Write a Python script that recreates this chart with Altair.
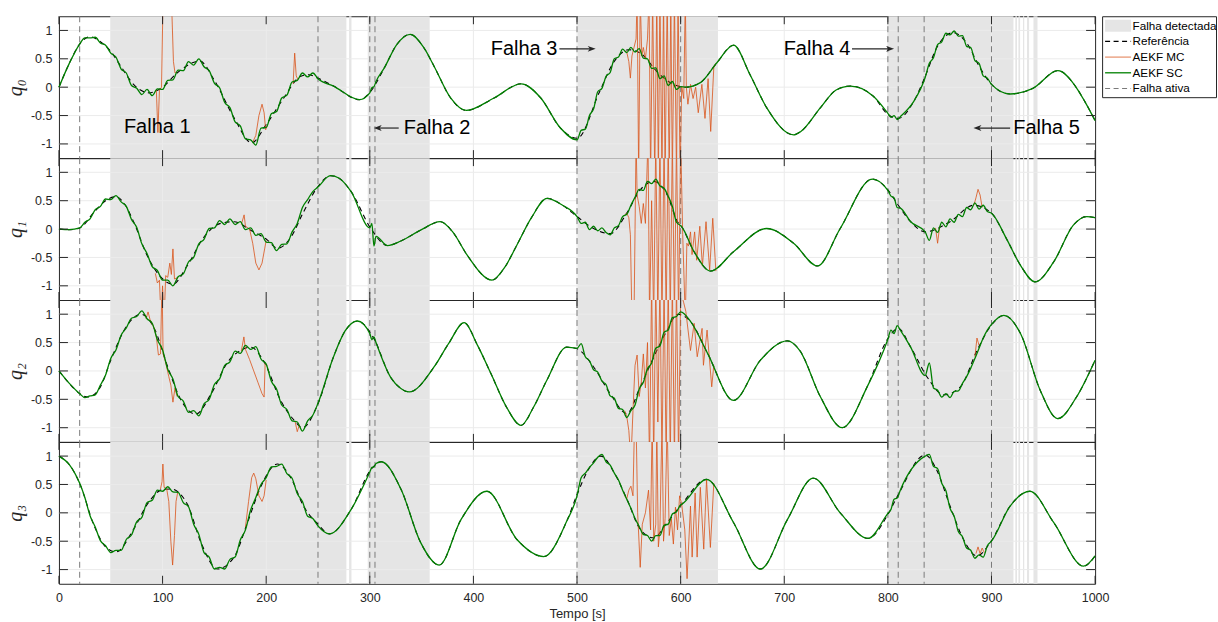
import altair as alt
import pandas as pd

# ------------------------------------------------------------------ data
# Referência (key points)
REF_T0 = [0,10,20,30,40,50,60,72,87,100,114,136,150,169,186,200,217,233,241,250,265,290,301,314,326,339,352,362,378,393,420,446,465,484,500,522,535,550,561,580,593,605,619,635,651,667,683,709,716,735,750,764,786,800,810,825,836,847,863,876,889,900,918,940,964,982,990,1000]
REF_V0 = [0,.42,.76,.89,.80,.63,.36,.05,-.10,.0,.25,.46,.12,-.54,-.98,-.66,-.19,.19,.22,.16,.02,-.22,-.07,.34,.75,.93,.70,.37,-.19,-.41,-.19,.06,-.19,-.72,-.90,-.07,.43,.66,.60,.22,.05,.0,.08,.43,.74,.22,-.36,-.84,-.78,-.36,-.05,.02,-.16,-.48,-.55,-.25,.19,.69,.96,.78,.34,.05,-.12,-.02,.29,-.01,-.25,-.59]
REF_T1 = [0,10,20,34,45,55,63,72,85,98,110,124,140,156,169,185,201,211,224,236,250,262,270,282,301,317,330,349,368,380,394,418,430,442,456,471,486,500,516,532,548,561,574,587,597,601,613,629,651,683,709,732,754,785,800,810,822,836,860,883,900,915,928,942,960,979,992,1000]
REF_V1 = [0,-.01,.02,.30,.50,.57,.45,.13,-.46,-.84,-.97,-.64,-.14,.10,.13,-.02,-.19,-.34,-.14,.30,.75,.94,.90,.66,.01,-.29,-.21,-.02,.13,-.05,-.46,-.90,-.68,-.28,.20,.54,.42,.22,.01,-.08,.28,.69,.84,.60,.13,.04,-.40,-.74,-.40,.01,-.25,-.65,.01,.88,.69,.42,.13,-.05,.13,.42,.28,-.19,-.64,-.93,-.58,.07,.22,.20]
REF_T2 = [0,10,20,28,40,50,63,79,92,105,118,132,147,163,175,185,198,214,227,235,250,265,276,288,304,320,330,338,362,376,391,404,417,432,446,458,471,490,500,516,532,548,561,577,587,597,610,626,651,677,703,715,735,756,780,800,810,822,838,854,870,886,900,912,928,947,964,982,1000]
REF_V2 = [0,-.22,-.40,-.46,-.28,.19,.72,1.0,.75,.07,-.52,-.76,-.40,.16,.36,.42,.16,-.52,-.87,-1.0,-.58,.25,.70,.88,.57,-.11,-.31,-.37,.07,.48,.85,.45,-.05,-.64,-.96,-.64,-.16,.42,.39,.07,-.40,-.75,-.28,.36,.72,1.0,.86,.31,-.52,.19,.53,.36,-.46,-1.0,-.28,.57,.75,.42,-.11,-.42,-.28,.36,.81,.98,.66,-.34,-.84,-.46,.19]
REF_T3 = [0,10,20,34,45,55,72,86,100,108,124,137,153,169,182,195,211,224,236,250,261,282,301,311,330,349,367,388,413,442,468,490,500,510,523,536,548,561,574,587,601,625,651,677,703,728,754,781,800,810,836,847,860,873,886,900,918,937,960,989,1000]
REF_V3 = [1.0,.85,.52,-.23,-.60,-.69,-.29,.17,.41,.42,.15,-.52,-.99,-.78,-.17,.47,.86,.61,.12,-.20,-.37,.06,.76,.90,.42,-.52,-.92,-.12,.38,-.47,-.77,-.15,.32,.73,1.0,.70,.25,-.29,-.44,-.17,.15,.59,-.17,-.99,-.12,.61,.0,-.45,-.03,.32,1.02,.76,.12,-.47,-.76,-.49,.12,.38,-.17,-.94,-.76]

# AEKF SC: noisy stretches (values read at these times); elsewhere it follows the reference
NOISE_WIN = [(20, 250), (300, 306), (500, 600), (800, 812), (836, 900)]
NOISE_T = [20,25,30,35,40,45,50,55,60,65,70,75,80,85,90,95,100,105,110,115,120,125,130,135,140,145,150,155,160,165,170,175,180,185,190,195,200,205,210,215,220,225,230,235,240,245,250,
           300,302,304,306,
           500,504,508,512,516,520,524,528,532,536,540,544,548,552,556,560,564,568,572,576,580,584,588,592,596,600,
           800,803,806,809,812,
           836,840,844,848,852,856,860,864,868,872,876,880,884,888,892,896,900]
SC_V0 = [.76,.87,.87,.88,.78,.74,.60,.53,.32,.25,.03,-.02,-.13,-.04,-.15,-.03,-.04,.12,.13,.30,.29,.45,.39,.50,.36,.29,.07,-.01,-.27,-.36,-.61,-.68,-.91,-.93,-1.02,-.72,-.71,-.47,-.43,-.19,-.14,.09,.12,.25,.18,.25,.15,
         -.10,-.01,.01,.10,
         -.93,-.76,-.74,-.50,-.38,-.08,-.02,.19,.26,.50,.53,.67,.61,.70,.62,.68,.51,.50,.33,.34,.15,.20,.03,.10,-.04,.01,
         -.46,-.53,-.50,-.57,-.52,
         .17,.42,.52,.75,.80,.95,.92,.99,.90,.91,.72,.70,.47,.42,.20,.16,.05]
SC_V1 = [.02,.12,.18,.34,.40,.53,.52,.59,.48,.40,.17,.03,-.26,-.43,-.66,-.73,-.90,-.90,-1.0,-.84,-.79,-.58,-.50,-.26,-.18,.01,.02,.15,.08,.18,.08,.13,-.01,.02,-.11,-.08,-.23,-.24,-.38,-.27,-.26,-.05,.10,.38,.52,.66,.74,
         .02,.10,-.30,-.13,
         .22,.10,.12,-.01,.05,-.03,.02,-.06,-.10,.02,.06,.22,.26,.42,.56,.70,.68,.84,.80,.88,.76,.72,.58,.40,.12,.06,
         .68,.58,.55,.38,.37,
         -.05,-.20,.02,-.06,.12,.04,.18,.12,.26,.22,.38,.34,.46,.35,.42,.31,.28]
SC_V2 = [-.40,-.47,-.44,-.42,-.25,-.07,.22,.37,.63,.76,.93,.96,1.06,.92,.84,.55,.37,.03,-.14,-.45,-.53,-.73,-.70,-.79,-.58,-.50,-.24,-.14,.10,.16,.35,.31,.45,.38,.43,.21,.12,-.18,-.32,-.60,-.68,-.88,-.90,-1.06,-.88,-.78,-.57,
         .66,.55,.60,.50,
         .40,.48,.25,.18,.02,-.02,-.18,-.24,-.44,-.48,-.66,-.68,-.82,-.70,-.60,-.32,-.20,.04,.14,.40,.44,.68,.72,.94,.96,1.04,
         .56,.72,.66,.80,.72,
         -.08,.14,-.30,-.34,-.46,-.40,-.47,-.36,-.35,-.22,-.10,.05,.22,.40,.58,.72,.82]
SC_V3 = [.52,.27,-.05,-.25,-.49,-.58,-.70,-.66,-.66,-.47,-.39,-.16,-.08,.18,.22,.40,.38,.46,.37,.36,.18,.11,-.20,-.38,-.70,-.78,-.99,-.96,-.99,-.82,-.78,-.48,-.30,.05,.27,.50,.62,.81,.82,.86,.69,.61,.34,.20,-.06,-.10,-.23,
         .72,.80,.81,.87,
         .30,.62,.70,.80,.88,.98,1.03,.90,.84,.70,.58,.40,.24,.08,-.10,-.24,-.38,-.40,-.50,-.40,-.40,-.22,-.20,-.02,.02,.14,
         -.01,.06,.24,.26,.40,
         1.0,1.03,.82,.78,.52,.39,.08,-.06,-.33,-.42,-.62,-.66,-.80,-.74,-.78,-.58,-.50]

# AEKF MC: stretches where it departs from AEKF SC (t, value); beyond +-1.25 is off the axes
MC0 = [
    [(94,-.05),(95.5,-.8),(97,-.05),(99,0.0),(100.5,1.6),(108.5,1.6),(110.5,.45),(112,.25),(114,.27)],
    [(187,-.97),(190,-.85),(193,-.5),(196,-.3),(198,-.45),(199.5,-.75),(201,-.68)],
    [(226,.06),(227.5,.6),(229,.2),(230.5,.14)],
    [(546,.64),(548,.62),(550,.45),(551.5,.16),(553,.55),(555,.7),(557,.85),(558,1.6),(559.5,-1.6),(561,1.6),(562.5,.55),(564,.7),(566,.5),(568,.85),(569.5,1.6),(571,-1.6),(573,1.6),(575,-1.6),(577,1.6),(578.5,-1.6),(580,1.6),(582,-1.6),(583.5,1.6),(585,-1.6),(587,1.6),(589,-1.6),(590.5,1.6),(592,-1.6),(594,1.6),(596,-1.6),(597.5,1.6),(599.5,-1.6),(601,.02),(603,-.2),(604.5,1.6),(605.5,.0),(607,-.3),(609.5,.05),(612,-.2),(614.5,.0),(617,-.45),(620.5,.05),(623.5,-.55),(626.5,.15),(629,-.78),(632,.35),(634,.42)],
]
MC1 = [
    [(93,-.78),(95,-.95),(97,-.9),(98.5,-1.6),(100,-1.0),(101.5,-1.6),(103,-.82),(105,-.85),(107,-.6),(108.5,-.8),(110,-.35),(111.5,-.88),(114,-.86)],
    [(176,.08),(178.7,.25),(180,.05),(184,.0),(187,-.25),(190,-.6),(193,-.72),(196,-.6),(198.5,-.35),(200,-.2)],
    [(546,.25),(548,.28),(550,.2),(551.5,-.1),(553,-1.6),(555,-1.6),(557,1.6),(558,.6),(560,.4),(562,.1),(564,.45),(566,.1),(568.5,1.6),(570,-1.6),(572,.5),(574,-1.6),(576,1.6),(578,-1.6),(580,1.6),(582,-1.6),(584,1.6),(586,-1.6),(588,1.6),(590,-1.6),(592,1.6),(594,-1.6),(596,1.6),(598,-1.6),(600,1.6),(602,-.1),(604.5,-1.6),(606,-.25),(607.5,-.3),(609.5,-.05),(611,-.45),(613.5,-.05),(615.5,-.55),(618.5,.05),(621,-.65),(624.5,.13),(628,-.72),(631,.19),(634,-.74)],
    [(846,.02),(848,-.25),(850,.05)],
    [(883,.42),(885,.55),(887,.7),(889,.6),(891,.38)],
]
MC2 = [
    [(84,.92),(86,1.04),(88,.9),(92,.75),(94,.6),(96,.28),(98,.3),(99.5,1.6),(100.5,.3),(103,.15),(106,-.1),(108,-.25),(110,-.55),(112,-.3),(114,-.45)],
    [(176,.35),(178.5,.6),(180,.38),(184,.2),(188,.0),(192,-.2),(196,-.4),(198,-.46),(199,.14),(201,.1)],
    [(228,-.9),(230,-1.07),(232,-.95)],
    [(546,-.7),(548,-.8),(550,-1.05),(552,-1.6),(554,-.7),(556,.1),(558,.28),(560,-.45),(562,-.2),(564,.3),(566,-.3),(568,.5),(570,-1.6),(572,1.6),(574,-1.6),(576,1.6),(578,-.9),(580,1.6),(582,-1.6),(584,1.6),(586,-1.6),(588,1.6),(590,-1.6),(592,1.6),(594,-1.6),(596,1.6),(598,-1.6),(600,1.4),(603,1.2),(605,1.05),(609.5,.36),(613,.84),(616,.25),(620.7,.75),(622,.1),(625.5,.72),(630,-.28),(632,.1)],
    [(884,.25),(886,.58),(888,.45)],
]
MC3 = [
    [(98,.42),(99.5,.55),(100.3,.86),(101.5,.45),(104,.42),(106,.2),(108,-.5),(109.7,-.92),(111.5,-.4),(113,.2),(114.5,.35)],
    [(180,-.25),(183,.2),(186,.62),(188,.7),(190,.6),(193,.3),(196,.2),(198,.3),(200,.58)],
    [(546,.3),(548,.25),(550,.4),(552,.47),(554,.3),(555.5,1.6),(557,1.6),(558.5,.0),(561,-.96),(563,-.2),(566,.0),(569,.4),(571,-.3),(572.5,1.6),(574,-.5),(576,-.2),(577,1.6),(578.5,-.6),(580,-.3),(582,1.6),(583.5,-.5),(585,-.1),(587,1.6),(589,-.4),(591,-.1),(593,-.55),(595,.1),(597,-.3),(599,.3),(601,.15),(604,-.3),(606.2,-1.16),(609.5,.12),(611.1,-.78),(614,.35),(615.9,-.78),(619,.45),(622.3,-.64),(625,.58),(628.7,-.61),(632,.52)],
    [(885,-.72),(887,-.6),(889,-.72),(891,-.62),(893,-.7)],
]

DET_START = [49.5, 280, 298, 500.5, 799.7, 923, 926, 930.4, 934.3, 940.5]
DET_END   = [277.4, 282.3, 357.8, 636, 921.2, 924.6, 927.6, 931.6, 936.3, 944.4]
FAULT_T = [20, 250, 300, 305, 500, 600, 800, 810, 835, 900]
XTICKS = [0, 100, 200, 300, 400, 500, 600, 700, 800, 900, 1000]
YTICKS = [-1, -0.5, 0, 0.5, 1]
QNAMES = ["q\u2080", "q\u2081", "q\u2082", "q\u2083"]

ANN_TEXT = ["Falha 1", "Falha 2", "Falha 3", "Falha 4", "Falha 5"]
ANN_X = [62.7, 332.7, 481.0, 763.7, 921.0]
ANN_Y = [-0.70, -0.72, 0.675, 0.675, -0.72]
ARROW_TAIL = [327.9, 483.0, 765.4, 918.0]
ARROW_HEAD = [303.8, 518.0, 806.0, 882.6]
ARROW_Y = [-0.72, 0.675, 0.675, -0.72]
LEGEND_LABELS = ["Falha detectada", "Referência", "AEKF MC", "AEKF SC", "Falha ativa"]

# ------------------------------------------------------------------ styling
W, H = 1037, 142
FONT = "Liberation Sans"
AX = "#262626"
GRAY_PATCH = "#e5e5e5"
GRID = "#ebebeb"
ORANGE = "#d95319"
GREEN = "#008000"
FAULT_GRAY = "#7a7a7a"
PX_PER_S = W / 1000.0

xs = alt.Scale(domain=[0, 1000], nice=False, zero=False)
ys = alt.Scale(domain=[-1.25, 1.25], nice=False, zero=False)

det_df = pd.DataFrame({"s": DET_START, "e": DET_END})
fault_df = pd.DataFrame({"t": FAULT_T})
vgrid_df = pd.DataFrame({"t": XTICKS[1:-1]})
hgrid_df = pd.DataFrame({"v": YTICKS})
xt_df = pd.DataFrame({"t": XTICKS})
yt_df = pd.DataFrame({"v": YTICKS})

REFS = [(REF_T0, REF_V0), (REF_T1, REF_V1), (REF_T2, REF_V2), (REF_T3, REF_V3)]
SCS = [SC_V0, SC_V1, SC_V2, SC_V3]
MCS = [MC0, MC1, MC2, MC3]


def in_noise(t):
    return any(a <= t <= b for a, b in NOISE_WIN)


def sc_frame(rt, rv, nv):
    assert len(nv) == len(NOISE_T)
    pts = [(t, v) for t, v in zip(rt, rv) if not in_noise(t)]
    pts += list(zip(NOISE_T, nv))
    pts.sort()
    return pd.DataFrame(pts, columns=["t", "v"])


def mc_frame(eps):
    rows = []
    for i, ep in enumerate(eps):
        for t, v in ep:
            rows.append({"t": t, "v": v, "seg": i})
    return pd.DataFrame(rows)


def panel(k):
    bottom = (k == 3)
    if bottom:
        xaxis = alt.Axis(values=XTICKS, labelExpr="toString(datum.value)", ticks=False,
                         domain=False, grid=False,
                         labelFont=FONT, labelFontSize=12.5, labelColor=AX, labelPadding=8,
                         labelFlush=False, labelOverlap=False,
                         title="Tempo [s]", titleFont=FONT, titleFontSize=13,
                         titleFontWeight="normal", titleColor=AX, titlePadding=3)
    else:
        xaxis = None
    yaxis = alt.Axis(values=YTICKS, labelExpr="toString(datum.value)", ticks=False,
                     domain=False, grid=False, labelFont=FONT, labelFontSize=12.5,
                     labelColor=AX, labelPadding=7, labelOverlap=False,
                     title=QNAMES[k], titleFont="Liberation Serif", titleFontSize=20,
                     titleFontStyle="italic", titleFontWeight="normal", titleColor=AX,
                     titlePadding=5)

    def X(f):
        return alt.X(f, type="quantitative", scale=xs, axis=xaxis)

    def Y(f):
        return alt.Y(f, type="quantitative", scale=ys, axis=yaxis)

    rt, rv = REFS[k]
    ref_df = pd.DataFrame({"t": rt, "v": rv})
    sc_df = sc_frame(rt, rv, SCS[k])
    mc_df = mc_frame(MCS[k])

    layers = [
        alt.Chart(det_df).mark_rect(color=GRAY_PATCH).encode(
            x=X("s"), x2=alt.X2("e"), y=alt.value(0), y2=alt.value(H)),
        alt.Chart(vgrid_df).mark_rule(color=GRID, strokeWidth=1).encode(
            x=X("t"), y=alt.value(0), y2=alt.value(H)),
        alt.Chart(hgrid_df).mark_rule(color=GRID, strokeWidth=1).encode(
            y=Y("v"), x=alt.value(0), x2=alt.value(W)),
        alt.Chart(fault_df).mark_rule(color=FAULT_GRAY, strokeDash=[6, 4], strokeWidth=1).encode(
            x=X("t"), y=alt.value(0), y2=alt.value(H)),
        alt.Chart(ref_df).mark_line(color="black", strokeDash=[5, 4], strokeWidth=1.1,
                                    interpolate="monotone").encode(x=X("t"), y=Y("v")),
        alt.Chart(mc_df).mark_line(color=ORANGE, strokeWidth=1, opacity=0.8, clip=True,
                                   interpolate="linear").encode(
            x=X("t"), y=Y("v"), detail="seg:N"),
        alt.Chart(sc_df).mark_line(color=GREEN, strokeWidth=1.3,
                                   interpolate="monotone").encode(x=X("t"), y=Y("v")),
        alt.Chart(xt_df).mark_rule(color=AX).encode(x=X("t"), y=alt.value(0), y2=alt.value(8)),
        alt.Chart(xt_df).mark_rule(color=AX).encode(x=X("t"), y=alt.value(H - 8), y2=alt.value(H)),
        alt.Chart(yt_df).mark_rule(color=AX).encode(y=Y("v"), x=alt.value(0), x2=alt.value(9)),
        alt.Chart(yt_df).mark_rule(color=AX).encode(y=Y("v"), x=alt.value(W - 9), x2=alt.value(W)),
    ]

    if k == 0:
        ann = pd.DataFrame({"txt": ANN_TEXT, "x": ANN_X, "y": ANN_Y})
        left_ann = ann[ann["txt"].isin(["Falha 1", "Falha 2", "Falha 5"])]
        right_ann = ann[ann["txt"].isin(["Falha 3", "Falha 4"])]
        layers.append(alt.Chart(left_ann).mark_text(align="left", baseline="middle", font=FONT,
                                                    fontSize=20, color="black").encode(
            x=X("x"), y=Y("y"), text="txt:N"))
        layers.append(alt.Chart(right_ann).mark_text(align="right", baseline="middle", font=FONT,
                                                     fontSize=20, color="black").encode(
            x=X("x"), y=Y("y"), text="txt:N"))
        arr = pd.DataFrame({"tail": ARROW_TAIL, "head": ARROW_HEAD, "y": ARROW_Y})
        arr["dir"] = [1 if h > t else -1 for t, h in zip(ARROW_TAIL, ARROW_HEAD)]
        arr["hc"] = arr["head"] - arr["dir"] * 4.0 / PX_PER_S
        arr["ang"] = [0 if d > 0 else 180 for d in arr["dir"]]
        layers.append(alt.Chart(arr).mark_rule(color=AX, strokeWidth=1.2).encode(
            x=X("tail"), x2=alt.X2("hc"), y=Y("y")))
        layers.append(alt.Chart(arr).mark_point(shape="M1,0L-1,-0.75L-0.45,0L-1,0.75Z", filled=True,
                                                size=64, color=AX, opacity=1, strokeWidth=0).encode(
            x=X("hc"), y=Y("y"), angle=alt.Angle("ang:Q", scale=None)))

        # legend box (drawn to the right of the first panel)
        one = pd.DataFrame({"a": [0]})
        lx0, lx1, sx0, sx1, tx = 1044.5, 1158.5, 1047, 1073, 1074.5
        rows = [9.5, 25.2, 40.9, 56.6, 72.3]
        layers.append(alt.Chart(one).mark_rect(fill="white", stroke=AX, strokeWidth=1).encode(
            x=alt.value(lx0), x2=alt.value(lx1), y=alt.value(0.5), y2=alt.value(81.5)))
        layers.append(alt.Chart(one).mark_rect(fill=GRAY_PATCH).encode(
            x=alt.value(sx0), x2=alt.value(sx1), y=alt.value(rows[0] - 6), y2=alt.value(rows[0] + 6)))
        layers.append(alt.Chart(one).mark_rule(color="black", strokeDash=[5, 3.5], strokeWidth=1.3).encode(
            x=alt.value(sx0), x2=alt.value(sx1), y=alt.value(rows[1])))
        layers.append(alt.Chart(one).mark_rule(color=ORANGE, opacity=0.6, strokeWidth=1.3).encode(
            x=alt.value(sx0), x2=alt.value(sx1), y=alt.value(rows[2])))
        layers.append(alt.Chart(one).mark_rule(color=GREEN, strokeWidth=1.3).encode(
            x=alt.value(sx0), x2=alt.value(sx1), y=alt.value(rows[3])))
        layers.append(alt.Chart(one).mark_rule(color=FAULT_GRAY, strokeDash=[5, 3.5], strokeWidth=1.1).encode(
            x=alt.value(sx0), x2=alt.value(sx1), y=alt.value(rows[4])))
        for lab, ry in zip(LEGEND_LABELS, rows):
            layers.append(alt.Chart(one).mark_text(align="left", baseline="middle", font=FONT,
                                                   fontSize=11.7, color="black").encode(
                x=alt.value(tx), y=alt.value(ry), text=alt.value(lab)))

    return alt.layer(*layers).properties(width=W, height=H)


chart = alt.vconcat(*[panel(k) for k in range(4)], spacing=0, bounds="flush").properties(
    padding={"left": 4, "top": 15, "right": 0, "bottom": 0}
).configure_view(stroke=AX, strokeWidth=1)

chart.save("out.html", embed_options={"renderer": "svg", "actions": False})
